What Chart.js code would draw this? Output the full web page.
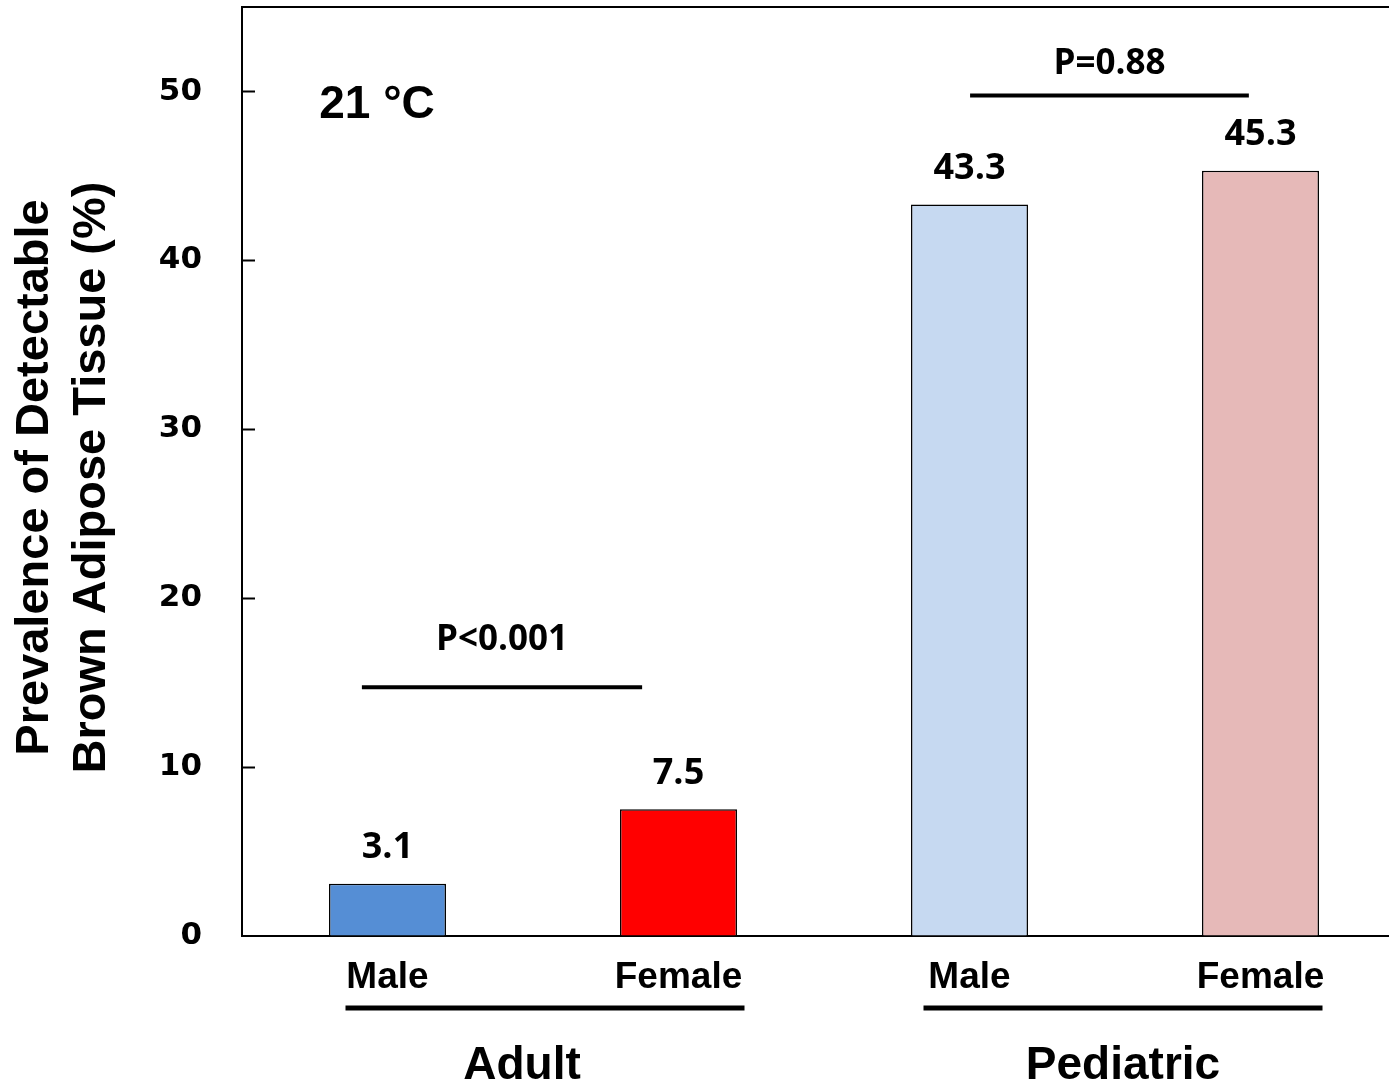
<!DOCTYPE html>
<html>
<head>
<meta charset="utf-8">
<script src="https://cdn.jsdelivr.net/npm/chart.js@4.4.1/dist/chart.umd.min.js"></script>
<style>
  html, body { margin: 0; padding: 0; background: #fff; overflow: hidden; }
  #wrap { width: 1420px; height: 1085px; }
</style>
</head>
<body>
<div id="wrap"><canvas id="bat" width="1420" height="1085"></canvas></div>
<script>
// Dados
const categories = ['Male', 'Female', 'Male', 'Female'];
const groups = ['Adult', 'Pediatric'];
const prevalence = [3.1, 7.5, 43.3, 45.3];
const barColors = ['#558ED5', '#FF0000', '#C6D9F1', '#E6B9B8'];
const yTicks = [0, 10, 20, 30, 40, 50];
const pLabels = ['P<0.001', 'P=0.88'];
const tempLabel = '21 °C';
const yTitle = ['Prevalence of Detectable', 'Brown Adipose Tissue (%)'];

// Posições das anotações (em unidades de categoria / valor)
const pBrackets = [
    { from: -0.088, to: 0.875, y: 14.73, textY: 17.5 },
    { from: 2.002, to: 2.96, y: 49.76, textY: 51.6 }
];
const groupLines = [{ from: 0, to: 1, nudge: -23, l: 42, r: 66 }, { from: 2, to: 3, nudge: 0, l: 46, r: 62 }];

const annotations = {
    id: 'annotations',
    afterDatasetsDraw(chart) {
        const { ctx, chartArea } = chart;
        const x = chart.scales.x;
        const y = chart.scales.y;
        const step = x.getPixelForValue(1) - x.getPixelForValue(0);
        const xAt = i => x.getPixelForValue(0) + i * step;

        ctx.save();
        ctx.fillStyle = '#000';
        ctx.strokeStyle = '#000';

        // borda superior
        ctx.lineWidth = 2;
        ctx.beginPath();
        ctx.moveTo(chartArea.left, chartArea.top);
        ctx.lineTo(chartArea.right, chartArea.top);
        ctx.stroke();

        // marcas internas do eixo y
        yTicks.slice(1).forEach(t => {
            const py = Math.round(y.getPixelForValue(t)) + 0.5;
            ctx.beginPath();
            ctx.moveTo(chartArea.left, py);
            ctx.lineTo(chartArea.left + 13, py);
            ctx.stroke();
        });

        // rótulos de valor
        ctx.font = 'bold 36px "Open Sans"';
        ctx.textAlign = 'center';
        ctx.textBaseline = 'middle';
        prevalence.forEach((v, i) => {
            ctx.fillText(v.toFixed(1), x.getPixelForValue(i), y.getPixelForValue(v) - 36);
        });

        // linhas de significância
        pBrackets.forEach((b, i) => {
            ctx.lineWidth = 4;
            ctx.beginPath();
            ctx.moveTo(xAt(b.from), y.getPixelForValue(b.y));
            ctx.lineTo(xAt(b.to), y.getPixelForValue(b.y));
            ctx.stroke();
            ctx.font = 'bold 35px "Open Sans"';
            ctx.fillText(pLabels[i], (xAt(b.from) + xAt(b.to)) / 2, y.getPixelForValue(b.textY));
        });

        // temperatura
        ctx.font = 'bold 46px "Liberation Sans"';
        ctx.fillText(tempLabel, xAt(-0.036), y.getPixelForValue(49.2));

        // grupos abaixo do eixo
        groupLines.forEach((g, i) => {
            const x1 = xAt(g.from) - g.l;
            const x2 = xAt(g.to) + g.r;
            ctx.lineWidth = 5;
            ctx.beginPath();
            ctx.moveTo(x1, 1008);
            ctx.lineTo(x2, 1008);
            ctx.stroke();
            ctx.font = 'bold 46px "Liberation Sans"';
            ctx.fillText(groups[i], (x1 + x2) / 2 + g.nudge, 1066);
        });

        // título do eixo y
        ctx.font = 'bold 47px "Liberation Sans"';
        const cy = (chartArea.top + chartArea.bottom) / 2 + 6;
        [35, 92].forEach((cx, i) => {
            ctx.save();
            ctx.translate(cx, cy);
            ctx.rotate(-Math.PI / 2);
            ctx.fillText(yTitle[i], 0, 0);
            ctx.restore();
        });

        ctx.restore();
    }
};

new Chart(document.getElementById('bat'), {
    type: 'bar',
    data: {
        labels: categories,
        datasets: [{
            data: prevalence,
            backgroundColor: barColors,
            borderColor: '#000',
            borderWidth: 1.5,
            barPercentage: 0.402,
            categoryPercentage: 1
        }]
    },
    options: {
        responsive: false,
        animation: false,
        layout: { padding: { top: 7, right: 14, left: 0, bottom: 0 } },
        plugins: {
            legend: { display: false },
            tooltip: { enabled: false }
        },
        scales: {
            x: {
                grid: { display: false },
                border: { display: true, color: '#000', width: 2 },
                ticks: {
                    color: '#000',
                    font: { family: 'Liberation Sans', size: 37, weight: 'bold' },
                    padding: 12,
                    maxRotation: 0
                },
                afterFit(scale) { scale.height = 149; }
            },
            y: {
                min: 0,
                max: 55,
                afterBuildTicks(scale) { scale.ticks = yTicks.map(v => ({ value: v })); },
                grid: { display: true, drawOnChartArea: false, drawTicks: true, tickLength: 40, tickColor: 'rgba(0,0,0,0)' },
                border: { display: true, color: '#000', width: 2 },
                ticks: {
                    color: '#000',
                    font: { family: 'DejaVu Sans', size: 31, weight: 'bold' },
                    padding: 0
                },
                afterFit(scale) {
                    scale.width = 242;
                    scale.paddingTop = 0;
                    scale.paddingBottom = 0;
                }
            }
        }
    },
    plugins: [annotations]
});
</script>
</body>
</html>
